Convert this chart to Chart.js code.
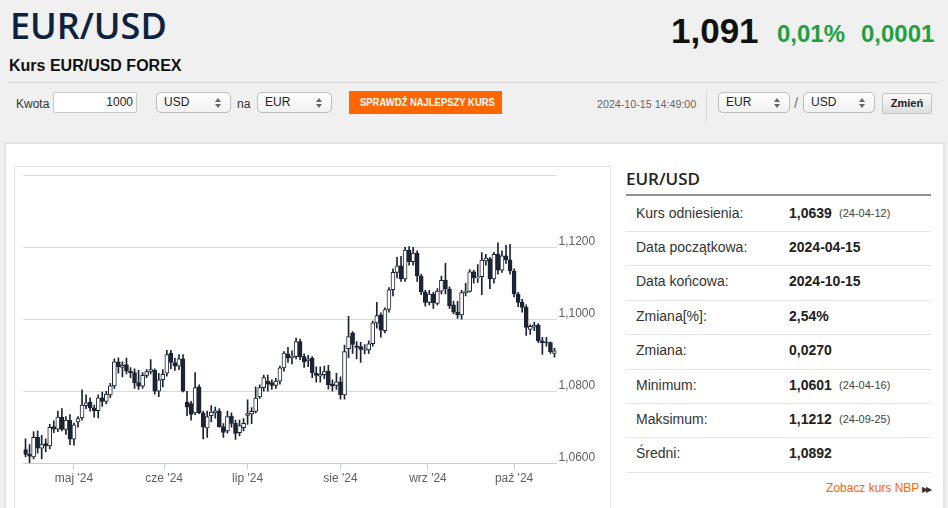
<!DOCTYPE html>
<html lang="pl">
<head>
<meta charset="utf-8">
<title>EUR/USD</title>
<script src="https://cdn.jsdelivr.net/npm/chart.js@4.4.1/dist/chart.umd.min.js"></script>
<style>
html, body { margin: 0; padding: 0; }
body { width: 948px; height: 508px; overflow: hidden; background: #f0f0f0; position: relative;
       font-family: "Liberation Sans", Arial, sans-serif; color: #333; }
.a { position: absolute; white-space: nowrap; }
.sel { position: absolute; height: 21px; box-sizing: border-box; border: 1px solid #bdbdbd; border-radius: 5px;
       background: linear-gradient(#ffffff, #f1f1f1); font-size: 12px; line-height: 19px; padding-left: 7px; color: #222; }
.sel i { position: absolute; right: 9px; width: 0; height: 0; border-left: 3px solid transparent; border-right: 3px solid transparent; }
.sel i.u { top: 5px; border-bottom: 4px solid #666; }
.sel i.d { top: 11px; border-top: 4px solid #666; }
.row { position: absolute; left: 626px; width: 305px; height: 34px; line-height: 34px; font-size: 14px; }
.row span { position: absolute; top: 0; }
.row .l { left: 10px; color: #333; }
.row .v { left: 163px; font-weight: bold; color: #222; }
.row .s { left: 213px; font-size: 11px; color: #444; }
.sep { position: absolute; left: 626px; width: 305px; height: 1px; background: #e6e6e6; }
</style>
</head>
<body>
<div class="a" style="left:10px;top:8px;font:600 36px/36px 'Open Sans';color:#0d2240;">EUR/USD</div>
<div class="a" style="left:9px;top:58px;font:bold 16px/16px 'Liberation Sans';color:#111;">Kurs EUR/USD FOREX</div>
<div class="a" style="left:671px;top:13px;font:bold 35px/35px 'Liberation Sans';color:#111;">1,091</div>
<div class="a" style="left:777px;top:22px;font:bold 24px/24px 'Liberation Sans';color:#22a040;">0,01%</div>
<div class="a" style="left:861px;top:22px;font:bold 24px/24px 'Liberation Sans';color:#22a040;">0,0001</div>
<div class="a" style="left:8px;top:82px;width:930px;height:1px;background:#d4d4d4;"></div>

<div class="a" style="left:16px;top:98px;font-size:12px;line-height:12px;color:#333;">Kwota</div>
<div class="a" style="left:53px;top:92px;width:84px;height:21px;box-sizing:border-box;border:1px solid #c8c8c8;border-radius:2px;background:#fff;font-size:12px;line-height:19px;text-align:right;padding-right:3px;color:#222;">1000</div>
<div class="sel" style="left:156px;top:92px;width:75px;">USD<i class="u"></i><i class="d"></i></div>
<div class="a" style="left:237px;top:98px;font-size:12px;line-height:12px;color:#333;">na</div>
<div class="sel" style="left:257px;top:92px;width:75px;">EUR<i class="u"></i><i class="d"></i></div>
<div class="a" style="left:349px;top:91px;width:153px;height:23px;background:#ff6600;color:#fff;font:bold 11px/23px 'Liberation Sans';text-align:center;"><span style="display:inline-block;transform:scaleX(0.86);">SPRAWDŹ NAJLEPSZY KURS</span></div>
<div class="a" style="left:597px;top:99px;font-size:10.7px;line-height:11px;color:#666;">2024-10-15 14:49:00</div>
<div class="a" style="left:706px;top:90px;width:1px;height:32px;background:#dcdcdc;"></div>
<div class="sel" style="left:718px;top:92px;width:72px;">EUR<i class="u"></i><i class="d"></i></div>
<div class="a" style="left:794px;top:95px;font-size:15px;line-height:15px;color:#777;">/</div>
<div class="sel" style="left:803px;top:92px;width:72px;">USD<i class="u"></i><i class="d"></i></div>
<div class="a" style="left:882px;top:93px;width:50px;height:21px;box-sizing:border-box;border:1px solid #c4c4c4;border-radius:2px;background:linear-gradient(#fafafa,#dedede);font:bold 11px/19px 'Liberation Sans';text-align:center;color:#222;">Zmień</div>

<div class="a" style="left:4px;top:142px;width:937px;height:380px;background:#fff;border:2px solid #e4e4e4;"></div>
<div class="a" style="left:14px;top:166px;width:595px;height:360px;border:1px solid #e4e4e4;"></div>
<div class="a" style="left:14px;top:166px;width:596px;height:342px;"><canvas id="candles"></canvas></div>

<div class="a" style="left:626px;top:170px;font:600 17px/17px 'Open Sans';color:#222;">EUR/USD</div>
<div class="a" style="left:626px;top:194px;width:305px;height:2px;background:#8f8f8f;"></div>
<div id="stats"></div>
<div class="a" style="left:826px;top:482px;font-size:12px;line-height:12px;color:#ff6600;">Zobacz kurs NBP <span style="font-size:8px;color:#333;letter-spacing:-2px;">▶▶</span></div>

<script>
// notowania dzienne EUR/USD, 2024-04-15 .. 2024-10-15
const dates = [
  '2024-04-15','2024-04-16','2024-04-17','2024-04-18','2024-04-19','2024-04-22','2024-04-23','2024-04-24','2024-04-25','2024-04-26','2024-04-29','2024-04-30',
  '2024-05-01','2024-05-02','2024-05-03','2024-05-06','2024-05-07','2024-05-08','2024-05-09','2024-05-10','2024-05-13','2024-05-14','2024-05-15','2024-05-16',
  '2024-05-17','2024-05-20','2024-05-21','2024-05-22','2024-05-23','2024-05-24','2024-05-27','2024-05-28','2024-05-29','2024-05-30','2024-05-31',
  '2024-06-03','2024-06-04','2024-06-05','2024-06-06','2024-06-07','2024-06-10','2024-06-11','2024-06-12','2024-06-13','2024-06-14','2024-06-17','2024-06-18',
  '2024-06-19','2024-06-20','2024-06-21','2024-06-24','2024-06-25','2024-06-26','2024-06-27','2024-06-28',
  '2024-07-01','2024-07-02','2024-07-03','2024-07-04','2024-07-05','2024-07-08','2024-07-09','2024-07-10','2024-07-11','2024-07-12','2024-07-15','2024-07-16',
  '2024-07-17','2024-07-18','2024-07-19','2024-07-22','2024-07-23','2024-07-24','2024-07-25','2024-07-26','2024-07-29','2024-07-30','2024-07-31',
  '2024-08-01','2024-08-02','2024-08-05','2024-08-06','2024-08-07','2024-08-08','2024-08-09','2024-08-12','2024-08-13','2024-08-14','2024-08-15','2024-08-16',
  '2024-08-19','2024-08-20','2024-08-21','2024-08-22','2024-08-23','2024-08-26','2024-08-27','2024-08-28','2024-08-29','2024-08-30',
  '2024-09-02','2024-09-03','2024-09-04','2024-09-05','2024-09-06','2024-09-09','2024-09-10','2024-09-11','2024-09-12','2024-09-13','2024-09-16','2024-09-17',
  '2024-09-18','2024-09-19','2024-09-20','2024-09-23','2024-09-24','2024-09-25','2024-09-26','2024-09-27','2024-09-30',
  '2024-10-01','2024-10-02','2024-10-03','2024-10-04','2024-10-07','2024-10-08','2024-10-09','2024-10-10','2024-10-11','2024-10-14','2024-10-15'
];
const openVals = [
  1.0638,1.0625,1.0618,1.0672,1.0642,1.0655,1.0648,1.0702,1.0695,1.0728,1.0694,1.0720,
  1.0667,1.0715,1.0726,1.0760,1.0770,1.0754,1.0746,1.0782,1.0772,1.0790,1.0815,1.0882,
  1.0866,1.0874,1.0856,1.0852,1.0824,1.0814,1.0844,1.0855,1.0858,1.0800,1.0832,
  1.0850,1.0906,1.0880,1.0870,1.0890,1.0770,1.0766,1.0740,1.0812,1.0740,1.0698,1.0732,
  1.0740,1.0746,1.0702,1.0690,1.0731,1.0711,1.0685,1.0699,
  1.0733,1.0737,1.0744,1.0784,1.0810,1.0828,1.0824,1.0816,1.0828,1.0865,1.0904,1.0893,
  1.0896,1.0938,1.0896,1.0884,1.0892,1.0850,1.0842,1.0846,1.0856,1.0820,1.0816,
  1.0826,1.0790,1.0918,1.0962,1.0926,1.0924,1.0914,1.0915,1.0932,1.0990,1.1012,1.0968,
  1.1027,1.1082,1.1130,1.1148,1.1112,1.1192,1.1160,1.1184,1.1120,1.1076,
  1.1047,1.1070,1.1044,1.1078,1.1108,1.1084,1.1040,1.1020,1.1012,1.1074,1.1077,1.1132,
  1.1115,1.1118,1.1162,1.1168,1.1112,1.1180,1.1136,1.1176,1.1165,
  1.1134,1.1070,1.1047,1.1033,1.0972,1.0978,1.0984,1.0940,1.0935,1.0935,1.0905
];
const highVals = [
  1.0668,1.0652,1.0688,1.0690,1.0678,1.0668,1.0708,1.0718,1.0745,1.0752,1.0730,1.0735,
  1.0712,1.0730,1.0804,1.0790,1.0782,1.0762,1.0790,1.0798,1.0800,1.0822,1.0890,1.0893,
  1.0882,1.0892,1.0866,1.0862,1.0858,1.0852,1.0860,1.0888,1.0862,1.0850,1.0860,
  1.0914,1.0914,1.0892,1.0902,1.0902,1.0800,1.0772,1.0852,1.0818,1.0745,1.0745,1.0760,
  1.0756,1.0752,1.0710,1.0745,1.0740,1.0720,1.0720,1.0724,
  1.0776,1.0755,1.0812,1.0818,1.0845,1.0845,1.0832,1.0836,1.0870,1.0910,1.0922,1.0912,
  1.0948,1.0945,1.0904,1.0900,1.0896,1.0868,1.0868,1.0870,1.0872,1.0832,1.0850,
  1.0840,1.0928,1.1008,1.0966,1.0938,1.0936,1.0930,1.0940,1.0995,1.1047,1.1018,1.1032,
  1.1088,1.1140,1.1172,1.1175,1.1200,1.1202,1.1200,1.1190,1.1125,1.1080,
  1.1080,1.1075,1.1085,1.1120,1.1155,1.1090,1.1050,1.1050,1.1080,1.1100,1.1138,1.1136,
  1.1152,1.1185,1.1180,1.1172,1.1186,1.1212,1.1190,1.1205,1.1208,
  1.1140,1.1075,1.1055,1.1040,1.0985,1.0992,1.0988,1.0950,1.0950,1.0937,1.0920
];
const lowVals = [
  1.0618,1.0601,1.0612,1.0628,1.0612,1.0632,1.0640,1.0685,1.0688,1.0690,1.0680,1.0652,
  1.0650,1.0700,1.0720,1.0752,1.0745,1.0728,1.0726,1.0758,1.0765,1.0782,1.0808,1.0850,
  1.0840,1.0848,1.0838,1.0808,1.0805,1.0808,1.0838,1.0848,1.0792,1.0785,1.0812,
  1.0842,1.0862,1.0858,1.0860,1.0798,1.0732,1.0720,1.0735,1.0738,1.0668,1.0672,1.0715,
  1.0725,1.0700,1.0672,1.0684,1.0700,1.0666,1.0676,1.0690,
  1.0708,1.0710,1.0740,1.0780,1.0800,1.0800,1.0805,1.0808,1.0820,1.0856,1.0880,1.0876,
  1.0890,1.0888,1.0866,1.0868,1.0838,1.0825,1.0825,1.0835,1.0806,1.0800,1.0805,
  1.0778,1.0778,1.0893,1.0905,1.0890,1.0880,1.0904,1.0905,1.0925,1.0975,1.0950,1.0962,
  1.1020,1.1065,1.1115,1.1105,1.1105,1.1150,1.1150,1.1105,1.1068,1.1036,
  1.1040,1.1030,1.1040,1.1070,1.1070,1.1030,1.1015,1.1002,1.1000,1.1065,1.1075,1.1100,
  1.1102,1.1068,1.1150,1.1085,1.1100,1.1125,1.1130,1.1155,1.1125,
  1.1062,1.1035,1.1020,1.0955,1.0958,1.0968,1.0935,1.0902,1.0925,1.0905,1.0895
];
const closeVals = [
  1.0625,1.0620,1.0672,1.0642,1.0652,1.0648,1.0700,1.0695,1.0728,1.0694,1.0720,1.0667,
  1.0707,1.0724,1.0762,1.0768,1.0754,1.0746,1.0782,1.0772,1.0792,1.0815,1.0882,1.0868,
  1.0872,1.0856,1.0852,1.0824,1.0814,1.0844,1.0855,1.0860,1.0800,1.0832,1.0847,
  1.0902,1.0880,1.0870,1.0890,1.0800,1.0756,1.0736,1.0810,1.0740,1.0700,1.0730,1.0742,
  1.0746,1.0702,1.0686,1.0730,1.0711,1.0683,1.0705,1.0711,
  1.0738,1.0744,1.0781,1.0810,1.0838,1.0820,1.0816,1.0828,1.0865,1.0906,1.0892,1.0898,
  1.0938,1.0896,1.0882,1.0890,1.0852,1.0844,1.0848,1.0855,1.0818,1.0814,1.0826,
  1.0790,1.0910,1.0952,1.0930,1.0922,1.0916,1.0918,1.0932,1.0990,1.1010,1.0970,1.1027,
  1.1082,1.1130,1.1148,1.1112,1.1192,1.1160,1.1184,1.1120,1.1076,1.1047,
  1.1070,1.1046,1.1078,1.1108,1.1084,1.1038,1.1020,1.1012,1.1074,1.1078,1.1132,1.1115,
  1.1118,1.1164,1.1170,1.1112,1.1180,1.1136,1.1176,1.1165,1.1134,
  1.1070,1.1047,1.1033,1.0977,1.0980,1.0984,1.0940,1.0935,1.0934,1.0910,1.0912
];
const monthStarts = ['2024-05-01', '2024-06-01', '2024-07-01', '2024-08-01', '2024-09-01', '2024-10-01'];
const monthLabels = ["maj '24", "cze '24", "lip '24", "sie '24", "wrz '24", "paź '24"];
const yTickValues = [1.06, 1.08, 1.10, 1.12, 1.14];

const statLabels = ['Kurs odniesienia:', 'Data początkowa:', 'Data końcowa:', 'Zmiana[%]:', 'Zmiana:', 'Minimum:', 'Maksimum:', 'Średni:'];
const statValues = ['1,0639', '2024-04-15', '2024-10-15', '2,54%', '0,0270', '1,0601', '1,1212', '1,0892'];
const statDates = ['(24-04-12)', '', '', '', '', '(24-04-16)', '(24-09-25)', ''];

// tabelka po prawej
const stats = document.getElementById('stats');
statLabels.forEach((lab, k) => {
    const top = 195.5 + 34.4 * k;
    const row = document.createElement('div');
    row.className = 'row';
    row.style.top = top + 'px';
    row.innerHTML = '<span class="l">' + lab + '</span><span class="v">' + statValues[k] + '</span>' +
        (statDates[k] ? '<span class="s">' + statDates[k] + '</span>' : '');
    stats.appendChild(row);
    const sep = document.createElement('div');
    sep.className = 'sep';
    sep.style.top = (top + 35.5) + 'px';
    stats.appendChild(sep);
});

// pozycja daty na osi sesji (weekendy wpadaja miedzy piatek i poniedzialek)
const dayMs = 86400000;
const sessionPos = (d) => {
    const t = Date.parse(d);
    let i = 0;
    while (i < dates.length - 1 && Date.parse(dates[i + 1]) <= t) i++;
    const t0 = Date.parse(dates[i]);
    if (t === t0 || i === dates.length - 1) return i;
    return i + (t - t0) / (Date.parse(dates[i + 1]) - t0);
};
const monthPos = monthStarts.map(sessionPos);

const dark = '#1c2434';
const isUp = closeVals.map((c, i) => c >= openVals[i]);

Chart.defaults.font.family = "'Liberation Sans', Arial, sans-serif";

new Chart(document.getElementById('candles'), {
    type: 'bar',
    data: {
        datasets: [
            {
                label: 'body',
                data: dates.map((d, i) => ({ x: i, y: [openVals[i], closeVals[i]] })),
                backgroundColor: isUp.map(u => u ? '#ffffff' : dark),
                borderColor: dark,
                borderWidth: 1,
                borderSkipped: false,
                barThickness: 4,
                minBarLength: 1,
                grouped: false,
                order: 0
            },
            {
                label: 'wick',
                data: dates.map((d, i) => ({ x: i, y: [lowVals[i], highVals[i]] })),
                backgroundColor: dark,
                barThickness: 1,
                grouped: false,
                order: 1
            }
        ]
    },
    options: {
        responsive: true,
        maintainAspectRatio: false,
        animation: false,
        layout: { padding: { left: 9.5, top: 9, right: 0, bottom: 0 } },
        plugins: { legend: { display: false }, tooltip: { enabled: false } },
        scales: {
            x: {
                type: 'linear',
                min: -0.5,
                max: dates.length - 0.5,
                offset: false,
                afterBuildTicks: (s) => { s.ticks = monthPos.map(v => ({ value: v })); },
                afterFit: (s) => { s.height = 44.7; },
                ticks: {
                    autoSkip: false,
                    maxRotation: 0,
                    padding: 2,
                    color: '#606060',
                    font: { size: 12 },
                    callback: (v, i) => monthLabels[i]
                },
                grid: { offset: false, drawOnChartArea: false, drawTicks: true, tickLength: 6, color: '#c0d0e0' },
                border: { display: true, color: '#c0d0e0', width: 1 }
            },
            y: {
                position: 'right',
                min: 1.06,
                max: 1.14,
                afterBuildTicks: (s) => { s.ticks = yTickValues.map(v => ({ value: v })); },
                afterFit: (s) => { s.width = 53.5; },
                ticks: {
                    padding: 2,
                    labelOffset: -6,
                    color: '#606060',
                    font: { size: 12 },
                    callback: (v) => Math.abs(v - 1.14) < 1e-9 ? '' : v.toFixed(4).replace('.', ',')
                },
                grid: { color: '#d9d9d9', drawTicks: false },
                border: { display: false }
            }
        }
    }
});
</script>
</body>
</html>
